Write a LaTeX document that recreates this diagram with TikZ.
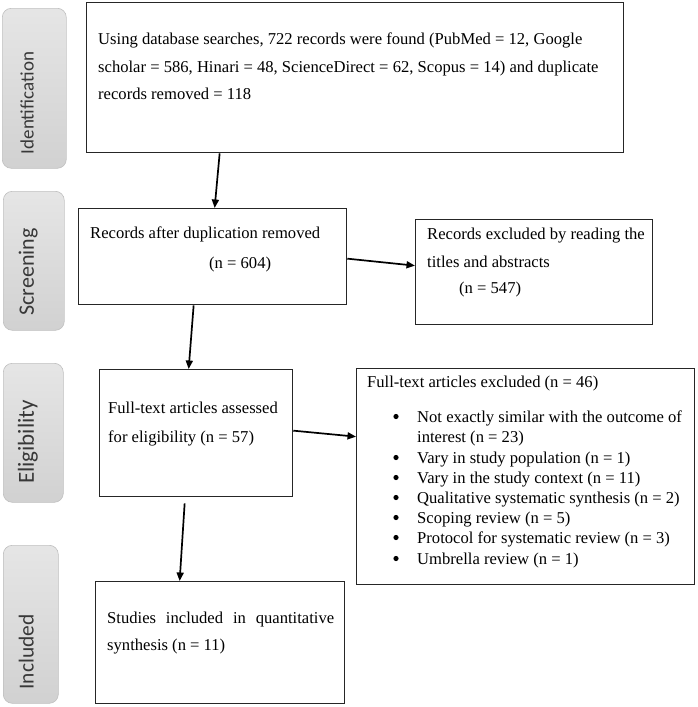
\documentclass[tikz,border=0pt]{standalone}
\usepackage{fontspec}
\setmainfont{Liberation Serif}
\newfontfamily\lblfont{Carlito}
\usetikzlibrary{arrows.meta}
\begin{document}
\begin{tikzpicture}[x=1pt,y=-1pt,
 box/.style={draw=black!85,line width=1.3pt,fill=white,inner sep=0pt,anchor=north west},
 txt/.style={anchor=base west,inner sep=0pt,font=\fontsize{16.6}{20}\selectfont},
 bul/.style={circle,fill=black,inner sep=0pt,minimum size=5.2pt},
 stage/.style={rounded corners=9pt,top color=gray!20,bottom color=gray!36,draw=gray!50,line width=0.6pt,anchor=north west,inner sep=0pt},
 lbl/.style={rotate=90,anchor=base,inner sep=0pt,text=black!78},
 arr/.style={line width=1.7pt,-{Triangle[length=8.5pt,width=7pt]}}]
\useasboundingbox (0,0) rectangle (698,707);
% stage labels
\node[stage,minimum width=64pt,minimum height=160pt] (s1) at (2,8) {};
\node[stage,minimum width=61pt,minimum height=139pt] (s2) at (3,191) {};
\node[stage,minimum width=60pt,minimum height=139pt] (s3) at (3,363) {};
\node[stage,minimum width=55pt,minimum height=158pt] (s4) at (3,545) {};
\node[lbl,font=\lblfont\fontsize{19}{22}\selectfont] (l1) at (33.5,103) {Identification};
\node[lbl,font=\lblfont\fontsize{22}{26}\selectfont] (l2) at (34,272) {Screening};
\node[lbl,font=\lblfont\fontsize{23}{26}\selectfont] (l3) at (34,442) {Eligibility};
\node[lbl,font=\lblfont\fontsize{21.4}{26}\selectfont] (l4) at (33.5,652) {Included};
% boxes
\node[box,minimum width=537pt,minimum height=150pt] (b1) at (86,2) {};
\node[box,minimum width=268pt,minimum height=96pt] (b2) at (78,208) {};
\node[box,minimum width=237pt,minimum height=105pt] (b3) at (415,219) {};
\node[box,minimum width=193pt,minimum height=127pt] (b4) at (99,369) {};
\node[box,minimum width=338pt,minimum height=216pt] (b5) at (356,368) {};
\node[box,minimum width=249pt,minimum height=122pt] (b6) at (95,581) {};
% texts
\node[txt] (t1a) at (98,44) {Using database searches, 722 records were found (PubMed = 12, Google};
\node[txt] (t1b) at (98,72) {scholar = 586, Hinari = 48, ScienceDirect = 62, Scopus = 14) and duplicate};
\node[txt] (t1c) at (98,99.5) {records removed = 118};
\node[txt] (t2a) at (90,238) {Records after duplication removed};
\node[txt] (t2b) at (209,268) {(n = 604)};
\node[txt] (t3a) at (427,239) {Records excluded by reading the};
\node[txt] (t3b) at (427,267) {titles and abstracts};
\node[txt] (t3c) at (459,293.5) {(n = 547)};
\node[txt] (t4a) at (108,413) {Full-text articles assessed};
\node[txt] (t4b) at (108,442) {for eligibility (n = 57)};
\node[txt] (t5h) at (367,387) {Full-text articles excluded (n = 46)};
\node[bul] (u1) at (396,416.5) {};
\node[txt] (t5a) at (417,422) {Not exactly similar with the outcome of};
\node[txt] (t5b) at (417,442) {interest (n = 23)};
\node[bul] (u2) at (396,457.5) {};
\node[txt] (t5c) at (417,463) {Vary in study population (n = 1)};
\node[bul] (u3) at (396,477.5) {};
\node[txt] (t5d) at (417,483) {Vary in the study context (n = 11)};
\node[bul] (u4) at (396,497.5) {};
\node[txt] (t5e) at (417,503) {Qualitative systematic synthesis (n = 2)};
\node[bul] (u5) at (396,517.5) {};
\node[txt] (t5f) at (417,523) {Scoping review (n = 5)};
\node[bul] (u6) at (396,537.5) {};
\node[txt] (t5g) at (417,543) {Protocol for systematic review (n = 3)};
\node[bul] (u7) at (396,558.5) {};
\node[txt] (t5i) at (417,564) {Umbrella review (n = 1)};
\node[txt] (t6a) at (107,623) {\makebox[227pt][s]{Studies included in quantitative}};
\node[txt] (t6b) at (107,650) {synthesis (n = 11)};
% arrows
\draw[arr] ([xshift=-135.5pt]b1.south) -- ([xshift=2pt]b2.north);
\draw[arr] ([yshift=-2pt]b2.east) -- ([yshift=6.5pt]b3.west);
\draw[arr] ([xshift=-19pt]b2.south) -- ([xshift=-7.5pt]b4.north);
\draw[arr] ([yshift=2.5pt]b4.east) -- ([yshift=40pt]b5.west);
\draw[arr] ([xshift=-11.5pt,yshift=-6pt]b4.south) -- ([xshift=-40.5pt]b6.north);
\end{tikzpicture}
\end{document}
